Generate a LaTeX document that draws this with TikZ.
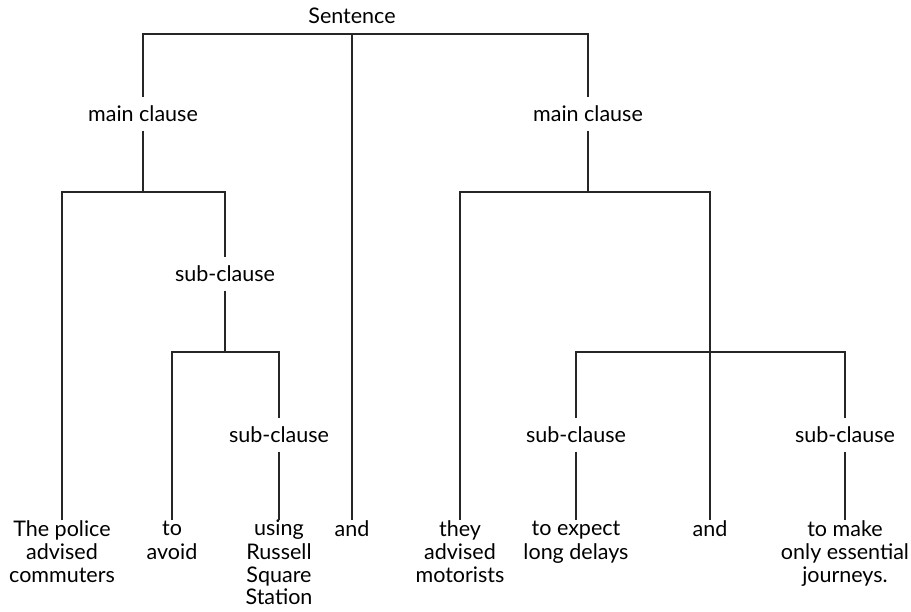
\documentclass[tikz,border=0pt]{standalone}
\usepackage{fontspec}
\setmainfont{Lato}
\begin{document}
\begin{tikzpicture}[x=1pt,y=-1pt,
  every node/.style={font=\fontsize{21.5}{22.5}\selectfont},
  lbl/.style={inner sep=0pt, minimum height=33pt, anchor=center},
  leaf/.style={inner sep=0pt, align=center, anchor=north},
  conn/.style={line width=1.3pt, black!85}]
\useasboundingbox (0,0) rectangle (911,611);
% labels
\node[lbl] (S) at (352,16) {Sentence};
\node[lbl] (mc1) at (143,114) {main clause};
\node[lbl] (mc2) at (588,114) {main clause};
\node[lbl] (sc1) at (225,274) {sub-clause};
\node[lbl] (sc2) at (279,435) {sub-clause};
\node[lbl] (sc3) at (576,435) {sub-clause};
\node[lbl] (sc4) at (845,435) {sub-clause};
% leaves
\node[leaf] (l1) at (62,520) {\strut The police\\advised\\commuters};
\node[leaf] (l2) at (172,520) {\strut to\\avoid};
\node[leaf] (l3) at (279,520) {\strut using\\Russell\\Square\\Station};
\node[leaf] (l4) at (352,520) {\strut and};
\node[leaf] (l5) at (460,520) {\strut they\\advised\\motorists};
\node[leaf] (l6) at (576,520) {\strut to expect\\long delays};
\node[leaf] (l7) at (710,520) {\strut and};
\node[leaf] (l8) at (845,520) {\strut to make\\only essential\\journeys.};
% junctions
\coordinate (jS) at (352,34);
\coordinate (j1) at (143,192);
\coordinate (j2) at (225,352);
\coordinate (j3) at (588,192);
\coordinate (j4) at (710,352);
% connectors
\draw[conn] (mc1.north) -- (mc1.north |- jS) -- (mc2.north |- jS) -- (mc2.north);
\draw[conn] (jS) -- (l4.north);
\draw[conn] (mc1.south) -- (j1);
\draw[conn] (l1.north) -- (l1.north |- j1) -- (sc1.north |- j1) -- (sc1.north);
\draw[conn] (sc1.south) -- (j2);
\draw[conn] (l2.north) -- (l2.north |- j2) -- (sc2.north |- j2) -- (sc2.north);
\draw[conn] (sc2.south) -- (l3.north);
\draw[conn] (mc2.south) -- (j3);
\draw[conn] (l5.north) -- (l5.north |- j3) -- (l7.north |- j3) -- (l7.north);
\draw[conn] (sc3.north) -- (sc3.north |- j4) -- (sc4.north |- j4) -- (sc4.north);
\draw[conn] (sc3.south) -- (l6.north);
\draw[conn] (sc4.south) -- (l8.north);
\end{tikzpicture}
\end{document}
